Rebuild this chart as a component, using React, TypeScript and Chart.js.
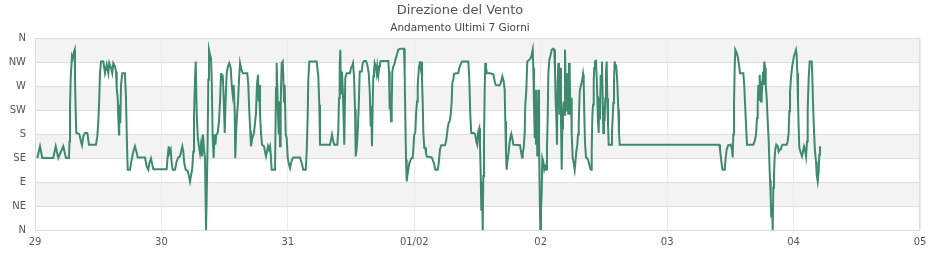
import React, { useEffect, useRef } from "react";
import { Chart, registerables } from "chart.js";

Chart.register(...registerables);

const TITLE = "Direzione del Vento";
const SUBTITLE = "Andamento Ultimi 7 Giorni";
const dayLabels = ["29", "30", "31", "01/02", "02", "03", "04", "05"];
const directionLabels = ["N", "NE", "E", "SE", "S", "SW", "W", "NW", "N"];

// hours since 29 00:00
const hours = [
  0.44, 0.95, 1.39, 3.47, 3.93, 4.42, 5.37, 5.88, 6.45, 6.55, 6.64, 6.78, 7.02, 7.16, 7.35, 7.54, 7.59, 7.73, 7.84, 8.41,
  8.73, 8.92, 9.17, 9.49, 9.93, 10.25, 11.58, 11.83, 12.02, 12.21, 12.34, 12.53, 12.97, 13.29, 13.61, 13.91, 14.1, 14.43, 14.67, 14.86,
  15.18, 15.38, 15.51, 15.7, 15.81, 15.95, 16.0, 16.19, 16.33, 16.57, 17.08, 17.27, 17.46, 17.6, 18.03, 18.22, 18.41, 18.66, 18.98, 19.31,
  19.5, 20.88,
  21.2, 21.51, 21.7, 22.02, 22.21, 22.46, 25.0, 25.19, 25.38, 25.49, 25.76, 25.95, 26.14, 26.58, 26.9, 27.2, 27.52, 27.72, 27.96, 28.15,
  28.34, 28.61, 28.99, 29.23, 29.42, 29.61, 29.86, 30.05, 30.18, 30.37, 30.51, 30.7, 30.89, 31.08, 31.32, 31.51, 31.7, 31.89, 32.08, 32.27,
  32.4, 32.46, 32.59, 32.78, 32.9, 33.03, 33.22, 33.41, 33.54, 33.73, 33.92, 34.04, 34.23, 34.42, 34.68, 34.93, 35.12, 35.31, 35.44, 35.63,
  35.82, 36.01, 36.2, 36.39, 36.64, 36.88, 37.15, 37.34, 37.53, 37.72, 37.91, 38.02, 38.16, 38.35, 38.54, 38.73, 38.92, 39.11, 39.3, 39.49,
  40.3, 40.49, 40.68, 40.87, 41.0, 41.25, 41.57,
  41.95, 42.14, 42.33, 42.47, 42.58, 42.71, 42.9, 43.09, 43.47, 43.66, 43.85, 44.04, 44.23, 44.42, 44.61, 44.74, 44.93, 45.56, 45.75, 45.88,
  46.07, 46.26, 46.38, 46.51, 46.64, 46.83, 47.02, 47.13, 47.27, 47.4, 47.59, 47.78, 47.97, 48.16, 48.41, 48.6, 48.79, 49.03, 50.3, 50.63,
  50.93, 51.39, 51.58, 51.77, 51.88, 52.07, 53.47, 53.78, 53.97, 54.1, 56.0, 56.19, 56.38, 56.63, 56.82, 57.39, 57.58, 57.71, 57.84, 57.96,
  58.09, 58.28, 58.47, 58.6, 58.71, 58.9, 59.17, 59.8, 59.99, 60.18, 60.37, 60.56, 60.75, 60.88, 61.07, 61.26, 61.45, 61.64,
  62.02, 62.21, 62.46, 62.84, 63.08, 63.35, 63.54, 63.73, 63.84, 63.97, 64.11, 64.22, 64.35, 64.48, 64.67, 64.86, 64.98, 65.17, 65.36, 65.49,
  65.68, 67.07, 67.2, 67.33, 67.45, 67.58, 67.71, 67.83, 68.02, 68.21, 68.4, 68.59, 68.78, 68.96, 69.29, 70.05, 70.18, 70.29, 70.43, 70.56,
  70.67, 70.86, 71.05, 71.32, 71.51, 71.7, 71.81, 72.0, 72.19, 72.33, 72.52, 72.65, 72.76, 72.9, 73.03, 73.22, 73.33, 73.46, 73.6, 73.71,
  73.9, 74.09, 74.22, 74.36, 75.3, 75.49, 75.74, 75.99, 76.44, 76.64, 76.88, 77.13, 77.83, 78.02, 78.21, 78.34, 78.53, 78.72, 78.91, 79.1,
  79.22, 79.41, 79.54, 80.05, 80.35, 80.54, 80.81, 81.06, 82.25, 82.44, 82.63, 82.82,
  83.33, 83.58, 83.77, 83.96, 84.15, 84.34, 84.47, 84.61, 84.72, 84.85, 84.99, 85.1, 85.23, 85.37, 85.48, 85.61, 85.8, 86.37, 87.0, 87.27,
  87.46, 87.95, 88.27, 88.52, 88.71, 88.97, 89.16, 89.28, 89.41, 89.54, 89.66, 89.85, 90.04, 90.23, 90.42, 90.61, 90.8, 92.07, 92.26, 92.45,
  92.58, 92.77, 92.96, 93.07, 93.26, 93.45, 93.83, 94.1, 94.29, 94.48, 94.59, 94.72, 94.86, 94.97, 95.1, 95.24, 95.35, 95.54, 95.67, 95.81,
  95.92, 96.05, 96.19, 96.3, 96.49, 96.68, 96.87, 97.06, 97.19, 97.33, 97.44, 97.63, 97.9, 98.09, 98.39, 98.58, 98.71, 98.84, 98.96, 99.09,
  99.22, 99.34, 99.47, 99.6, 99.72, 99.85, 99.98, 100.1, 100.23, 100.36, 100.48, 100.61, 100.74, 100.86, 100.99, 101.12, 101.24, 101.37, 101.5, 101.62,
  101.75, 101.88, 102.07, 102.26, 102.45, 102.57, 102.76, 102.95, 103.08, 103.21, 103.4,
  103.89, 104.03, 104.16, 104.27, 104.41, 104.6, 104.79, 104.98, 105.17, 105.36, 105.55, 105.68, 105.8, 105.93, 106.06, 106.17, 106.3, 106.49, 106.63, 106.74,
  106.87, 107.0, 107.12, 107.25, 107.38, 107.49, 107.63, 107.76, 107.88, 108.01, 108.14, 108.25, 108.39, 108.52, 108.64, 108.77, 108.9, 109.39, 109.53, 109.66,
  109.78, 109.91, 110.04, 110.16, 110.29, 110.42, 110.54, 110.73, 110.86, 110.99, 129.9,
  130.03, 130.22, 130.41, 130.54, 130.92, 131.11, 131.3, 131.61, 132.06, 132.31, 132.44, 132.56, 132.69, 132.82, 132.94, 133.2, 133.39, 133.64, 133.83, 134.46,
  134.65, 134.84, 135.03, 135.16, 136.36, 136.68, 136.87, 137.06, 137.19, 137.31, 137.44, 137.57, 137.68, 137.82, 137.95, 138.06, 138.2, 138.33, 138.44, 138.58,
  138.71, 138.9, 139.09, 139.28, 139.4, 139.53, 139.66, 139.77, 139.91, 140.04, 140.15, 140.28, 140.41, 140.53, 140.72, 140.99, 141.18, 141.37, 141.56, 141.75,
  141.94, 142.69, 142.88, 143.07, 143.19, 143.32, 143.51, 143.7, 143.89, 144.08, 144.27, 144.46, 144.59, 144.7, 144.84, 144.97, 145.09,
  145.22, 145.41, 145.6, 145.79, 145.98, 146.17, 146.36, 146.55, 146.68, 146.87, 147.06, 147.44, 147.55, 147.69, 147.88, 148.07, 148.26, 148.39, 148.58, 148.77,
  148.88, 149.01,
];

// wind direction, degrees
const degrees = [
  135, 157, 135, 135, 157, 135, 157, 135, 135, 166, 226, 285, 326, 322, 332, 338, 285, 219, 182, 180,
  166, 159, 176, 182, 182, 160, 160, 176, 204, 250, 294, 316, 316, 294, 310, 294, 313, 304, 294, 313,
  307, 297, 266, 247, 210, 179, 235, 200, 272, 294, 294, 247, 160, 113, 113, 125, 135, 147, 157, 145,
  136, 136,
  119, 113, 125, 134, 125, 114, 114, 138, 157, 144, 151, 125, 113, 113, 129, 136, 138, 147, 157, 147,
  125, 113, 111, 101, 91, 101, 116, 147, 213, 282, 316, 216, 176, 160, 144, 160, 138, 179, 151, 135,
  47, 0, 60, 172, 282, 338, 329, 322, 285, 172, 135, 179, 160, 179, 182, 204, 241, 294, 279, 291,
  247, 182, 247, 294, 307, 313, 304, 272, 254, 272, 222, 135, 179, 216, 241, 282, 313, 304, 297, 294,
  294, 272, 222, 185, 157, 172, 182,
  219, 272, 291, 241, 272, 219, 182, 160, 157, 147, 138, 147, 157, 151, 157, 144, 113, 113, 266, 313,
  235, 179, 241, 157, 241, 313, 316, 291, 241, 272, 179, 172, 135, 125, 116, 125, 132, 136, 136, 125,
  113, 113, 147, 216, 282, 316, 316, 288, 235, 160, 160, 169, 179, 166, 160, 160, 188, 247, 307, 338,
  254, 297, 251, 204, 160, 285, 294, 294, 304, 307, 313, 288, 226, 138, 154, 185, 229, 297,
  297, 313, 317, 317, 310, 294, 260, 194, 232, 157, 238, 288, 297, 313, 307, 294, 307, 291, 307, 313,
  317, 317, 297, 226, 257, 204, 235, 297, 307, 310, 319, 325, 332, 338, 340, 340, 291, 216, 132, 91,
  101, 113, 125, 132, 135, 135, 151, 179, 182, 216, 241, 269, 288, 307, 316, 304, 316, 285, 238, 185,
  154, 154, 144, 138, 136, 132, 125, 113, 113, 125, 151, 159, 159, 166, 179, 191, 201, 204, 216, 241,
  276, 282, 293, 294, 294, 304, 311, 316, 316, 285, 216, 182,
  182, 179, 166, 160, 185, 191, 160, 104, 38, 91, 0, 101, 160, 266, 313, 304, 294, 294, 292, 279,
  272, 271, 272, 279, 288, 279, 263, 204, 144, 113, 128, 141, 160, 172, 180, 172, 160, 159, 147, 136,
  144, 154, 182, 235, 260, 316, 319, 322, 329, 338, 304, 238, 172, 263, 160, 235, 138, 263, 172, 66,
  0, 35, 72, 135, 129, 113, 119, 113, 154, 213, 291, 319, 329, 338, 340, 338, 297, 241, 216, 160,
  279, 313, 266, 216, 304, 210, 113, 191, 226, 241, 216, 338, 272, 222, 294, 241, 216, 313, 297, 216,
  248, 179, 135, 125, 113, 125, 147, 160, 179, 198, 260,
  282, 292, 279, 216, 163, 136, 135, 132, 125, 116, 113, 147, 213, 235, 282, 304, 316, 317, 285, 251,
  204, 182, 247, 207, 291, 272, 316, 251, 182, 232, 204, 247, 297, 316, 247, 201, 160, 160, 185, 210,
  238, 279, 316, 307, 310, 297, 276, 226, 182, 160, 160,
  151, 135, 119, 113, 113, 135, 151, 159, 160, 151, 136, 179, 235, 304, 338, 332, 326, 310, 294, 294,
  269, 226, 185, 160, 160, 169, 179, 210, 235, 272, 244, 291, 247, 241, 279, 272, 297, 272, 316, 304,
  272, 247, 204, 166, 129, 94, 60, 23, 48, 0, 79, 104, 135, 151, 160, 157, 147, 151, 151, 157,
  160, 160, 166, 182, 222, 257, 285, 304, 316, 326, 332, 338, 329, 294, 241, 191, 154,
  154, 144, 138, 147, 157, 151, 138, 166, 226, 285, 316, 316, 291, 238, 185, 147, 128, 104, 91, 110,
  141, 157,
];

const LINE_COLOR = "#3d8a6c";
const BAND_COLOR = "#f3f3f3";
const GRID_COLOR = "#dddddd";
const VGRID_COLOR = "#ebebf8";
const TEXT_COLOR = "#555555";
const FONT = "'DejaVu Sans', sans-serif";

export default function App() {
  const ref = useRef<HTMLCanvasElement>(null);

  useEffect(() => {
    document.body.style.margin = "0";
    const canvas = ref.current;
    if (!canvas) return;

    const bands = {
      id: "bands",
      beforeDraw(chart: any) {
        const { ctx, chartArea, scales } = chart;
        const y = scales.y;
        ctx.save();
        ctx.fillStyle = BAND_COLOR;
        for (let i = 0; i < directionLabels.length - 1; i++) {
          if (i % 2 === 1) {
            const lo = i * 45;
            const hi = (i + 1) * 45;
            const top = y.getPixelForValue(hi);
            const bot = y.getPixelForValue(lo);
            ctx.fillRect(chartArea.left, top, chartArea.right - chartArea.left, bot - top);
          }
        }
        ctx.restore();
      },
      beforeDatasetsDraw(chart: any) {
        const { ctx, chartArea } = chart;
        ctx.save();
        ctx.strokeStyle = GRID_COLOR;
        ctx.lineWidth = 1;
        ctx.strokeRect(
          Math.round(chartArea.left) + 0.5,
          Math.round(chartArea.top) + 0.5,
          Math.round(chartArea.right - chartArea.left) - 1,
          Math.round(chartArea.bottom - chartArea.top)
        );
        ctx.restore();
      },
    };

    const points = hours.map((h, i) => ({ x: h, y: degrees[i] }));

    const chart = new Chart(canvas, {
      type: "line",
      data: {
        datasets: [
          {
            data: points,
            borderColor: LINE_COLOR,
            borderWidth: 2,
            pointRadius: 0,
            tension: 0,
            fill: false,
          },
        ],
      },
      options: {
        animation: false,
        responsive: false,
        devicePixelRatio: 1,
        layout: { padding: { left: 0, right: 20, top: 0, bottom: 0 } },
        plugins: {
          legend: { display: false },
          tooltip: { enabled: false },
          title: {
            display: true,
            text: TITLE,
            color: TEXT_COLOR,
            font: { family: FONT, size: 13, weight: "normal" },
            padding: { top: 3, bottom: 0 },
          },
          subtitle: {
            display: true,
            text: SUBTITLE,
            color: "#444444",
            font: { family: FONT, size: 10.5, weight: "normal" },
            padding: { top: 3, bottom: 3.8 },
          },
        },
        scales: {
          x: {
            type: "linear",
            min: 0,
            max: 168,
            afterFit(scale: any) {
              scale.height = 30;
            },
            ticks: {
              stepSize: 24,
              autoSkip: false,
              maxRotation: 0,
              padding: 6,
              color: TEXT_COLOR,
              font: { family: FONT, size: 10 },
              callback: (v: any) => dayLabels[Math.round(Number(v) / 24)] ?? "",
            },
            grid: { color: VGRID_COLOR, drawTicks: false },
            border: { display: false },
          },
          y: {
            min: 0,
            max: 360,
            afterFit(scale: any) {
              scale.width = 35;
            },
            ticks: {
              stepSize: 45,
              autoSkip: false,
              padding: 9,
              color: TEXT_COLOR,
              font: { family: FONT, size: 10 },
              callback: (v: any) => directionLabels[Math.round(Number(v) / 45)] ?? "",
            },
            grid: { color: GRID_COLOR, drawTicks: false },
            border: { display: false },
          },
        },
      },
      plugins: [bands],
    });

    return () => chart.destroy();
  }, []);

  return (
    <div style={{ width: 940, height: 260 }}>
      <canvas ref={ref} width={940} height={260} style={{ display: "block" }} />
    </div>
  );
}
